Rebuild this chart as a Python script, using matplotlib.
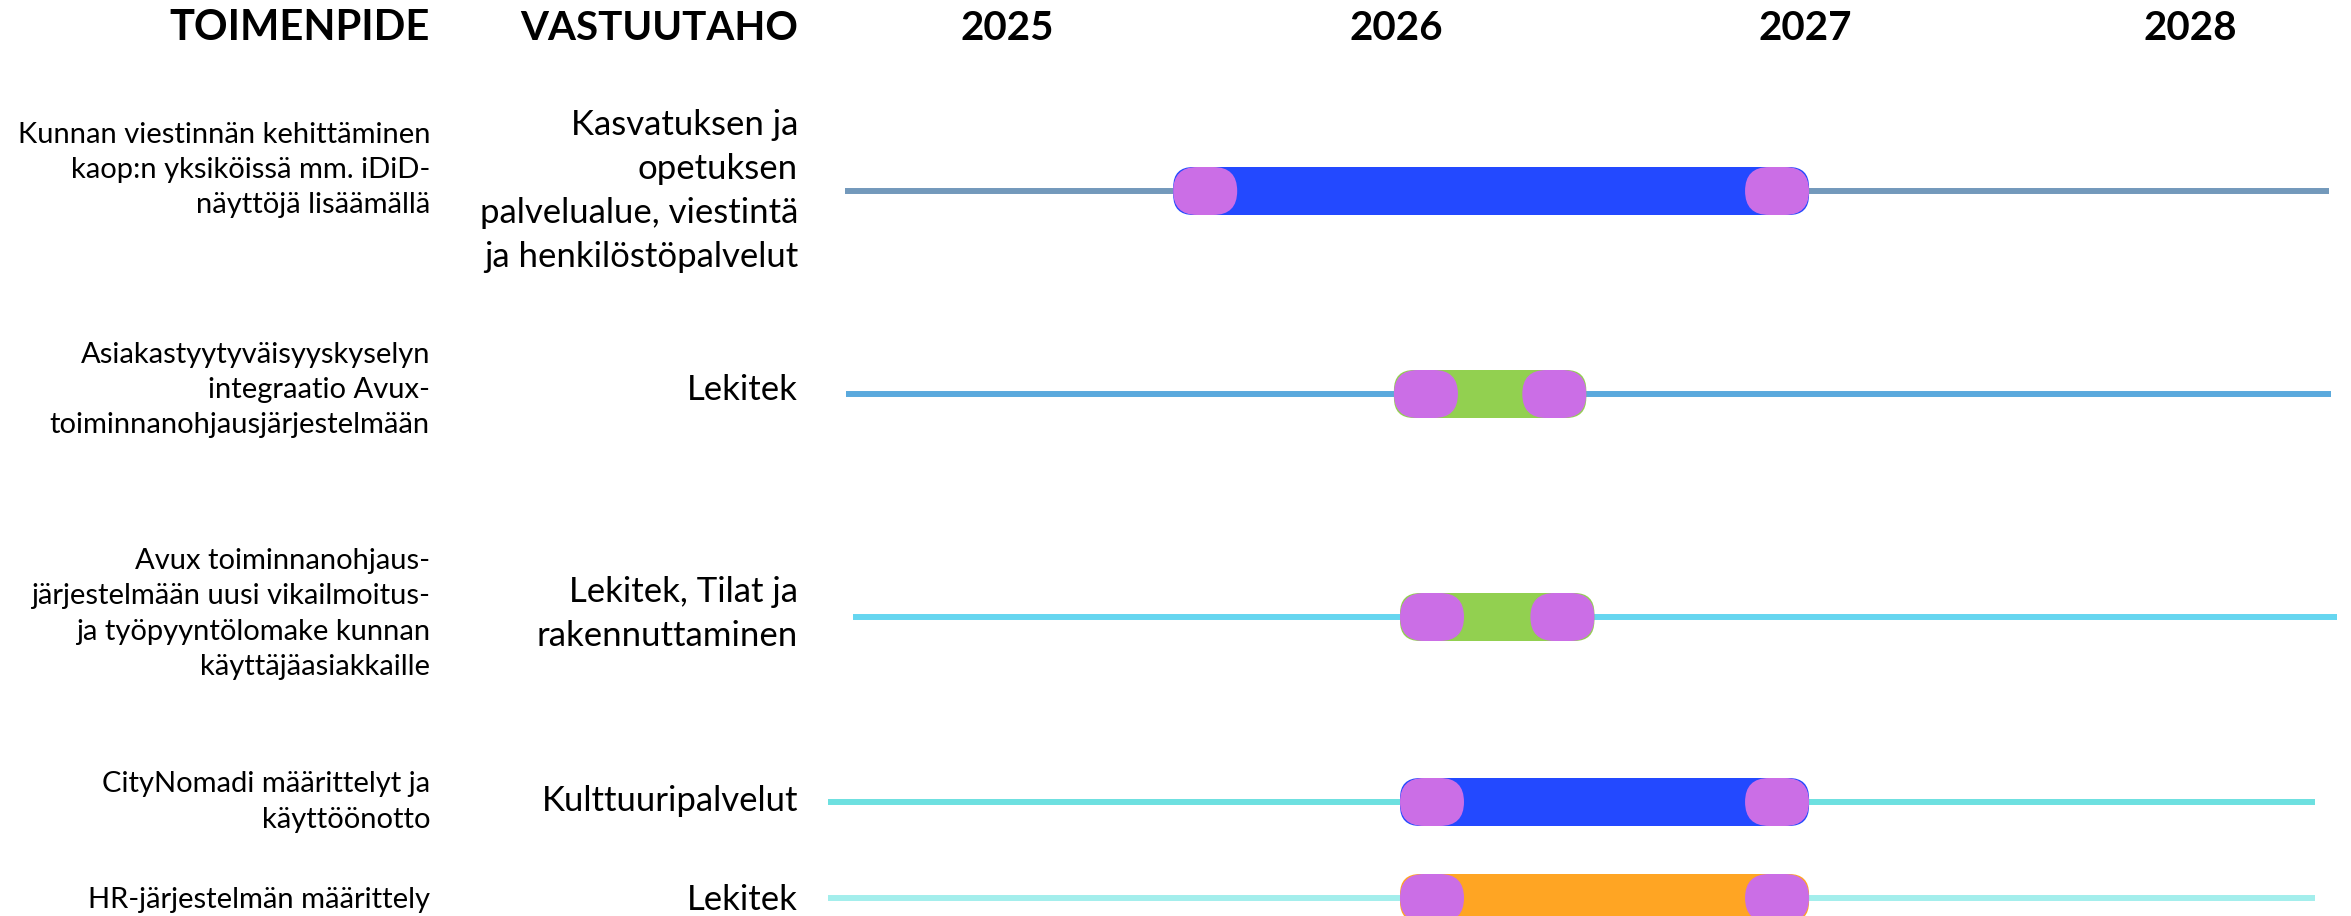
import matplotlib
matplotlib.use("Agg")
import matplotlib.pyplot as plt
from matplotlib.patches import FancyBboxPatch

plt.rcParams['font.family'] = ['Lato', 'DejaVu Sans']

# Data
toimenpiteet = [
    "Kunnan viestinnän kehittäminen\nkaop:n yksiköissä mm. iDiD-\nnäyttöjä lisäämällä",
    "Asiakastyytyväisyyskyselyn\nintegraatio Avux-\ntoiminnanohjausjärjestelmään",
    "Avux toiminnanohjaus-\njärjestelmään uusi vikailmoitus-\nja työpyyntölomake kunnan\nkäyttäjäasiakkaille",
    "CityNomadi määrittelyt ja\nkäyttöönotto",
    "HR-järjestelmän määrittely",
]
vastuutahot = [
    "Kasvatuksen ja\nopetuksen\npalvelualue, viestintä\nja henkilöstöpalvelut",
    "Lekitek",
    "Lekitek, Tilat ja\nrakennuttaminen",
    "Kulttuuripalvelut",
    "Lekitek",
]
years = ["2025", "2026", "2027", "2028"]
year_pos = [2025.03, 2025.99, 2027.0, 2027.95]
start = [2025.44, 2025.985, 2026.0, 2026.0, 2026.0]
end = [2027.01, 2026.46, 2026.48, 2027.01, 2027.01]
line_start = [2024.63, 2024.632, 2024.649, 2024.588, 2024.588]
line_end = [2028.294, 2028.299, 2028.314, 2028.259, 2028.259]

bar_colors = ["#2349ff", "#92d050", "#92d050", "#2349ff", "#ffa523"]
line_colors = ["#7399bb", "#5aa9dd", "#66d6f0", "#6de0e0", "#a3eeec"]
cap_color = "#cb6ee6"

# layout (pixels)
W, H = 2351, 916
px_per_year = 405
row_y = [191, 394, 617, 802, 898]
text_y1 = [170, 390, 614, 802, 900]
text_y2 = [191, 390, 614, 801, 900]

def xp(p):
    return 2026 + (p - 1400) / px_per_year

fig = plt.figure(figsize=(W / 100, H / 100), dpi=100)
ax = fig.add_axes([0, 0, 1, 1])
ax.set_xlim(xp(0), xp(W))
ax.set_ylim(H, 0)
ax.axis('off')

bar_h = 48
cap_w = 64 / px_per_year
for i in range(len(start)):
    y = row_y[i]
    ax.plot([line_start[i], line_end[i]], [y, y], color=line_colors[i], lw=4.3,
            solid_capstyle='butt', zorder=1)
    ax.add_patch(FancyBboxPatch((start[i], y - bar_h / 2), end[i] - start[i], bar_h,
                                boxstyle=f"round,pad=0,rounding_size={20 / px_per_year}",
                                mutation_aspect=px_per_year, fc=bar_colors[i], ec='none', zorder=2))
    for cx in (start[i], end[i] - cap_w):
        ax.add_patch(FancyBboxPatch((cx, y - bar_h / 2), cap_w, bar_h,
                                    boxstyle=f"round,pad=0,rounding_size={24 / px_per_year}",
                                    mutation_aspect=px_per_year, fc=cap_color, ec='none', zorder=3))

# headers
ax.text(xp(430), 28, "TOIMENPIDE", ha='right', va='center', fontsize=30, fontweight='bold')
ax.text(xp(798), 28, "VASTUUTAHO", ha='right', va='center', fontsize=29, fontweight='bold')
for yr, xpos in zip(years, year_pos):
    ax.text(xpos, 28, yr, ha='center', va='center', fontsize=29, fontweight='bold')

for i in range(len(toimenpiteet)):
    ax.text(xp(430), text_y1[i], toimenpiteet[i], ha='right', va='center',
            multialignment='right', fontsize=21, linespacing=1.45)
    ax.text(xp(798), text_y2[i], vastuutahot[i], ha='right', va='center',
            multialignment='right', fontsize=25, linespacing=1.45)

fig.savefig("out.png", dpi=100, facecolor='white')
